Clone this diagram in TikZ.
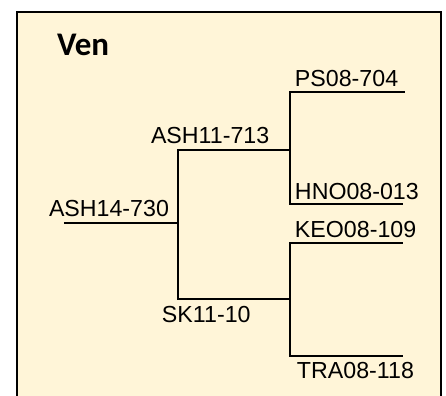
\documentclass[tikz,border=0pt]{standalone}
\usepackage{fontspec}
\setmainfont{Liberation Sans}
\newfontfamily\titlefont{Carlito}
\usepackage{tikz}
\usetikzlibrary{positioning, calc}
\definecolor{VenGelb}{RGB}{255,245,216}

\begin{document}
\begin{tikzpicture}[x=0.5pt, y=-0.5pt, line width=1pt,
    taxon/.style={anchor=base west, inner sep=0pt, font=\fontsize{11.6}{14}\selectfont}]
    \useasboundingbox (0,0) rectangle (446,396);
    \path[draw=black, fill=VenGelb] (17,12) rectangle (441,420);
    \node[anchor=base west, inner sep=0pt, font=\titlefont\bfseries\fontsize{16.5}{20}\selectfont] (title) at (56,55) {Ven};

    % junctions of the tree
    \coordinate (R)  at ( 64,223);
    \coordinate (J)  at (178,223);
    \coordinate (A0) at (178,150);
    \coordinate (A1) at (290,150);
    \coordinate (S0) at (178,299);
    \coordinate (S1) at (290,299);
    \coordinate (P0) at (290, 92);
    \coordinate (P1) at (405, 92);
    \coordinate (H0) at (290,204);
    \coordinate (H1) at (403,204);
    \coordinate (K0) at (290,243);
    \coordinate (K1) at (403,243);
    \coordinate (T0) at (290,356);
    \coordinate (T1) at (403,356);

    \draw (R) -- (J);
    \draw (A1) -- (A0) -- (S0) -- (S1);
    \draw (P1) -- (P0) -- (H0) -- (H1);
    \draw (K1) -- (K0) -- (T0) -- (T1);

    % labels
    \node[taxon] (ash14) at ( 48,217) {ASH14-730};
    \node[taxon] (ash11) at (150,144) {ASH11-713};
    \node[taxon] (sk11)  at (161,322) {SK11-10};
    \node[taxon] (ps08)  at (294, 87) {PS08-704};
    \node[taxon] (hno08) at (294,199) {HNO08-013};
    \node[taxon] (keo08) at (294,237) {KEO08-109};
    \node[taxon] (tra08) at (296,379) {TRA08-118};
\end{tikzpicture}
\end{document}
